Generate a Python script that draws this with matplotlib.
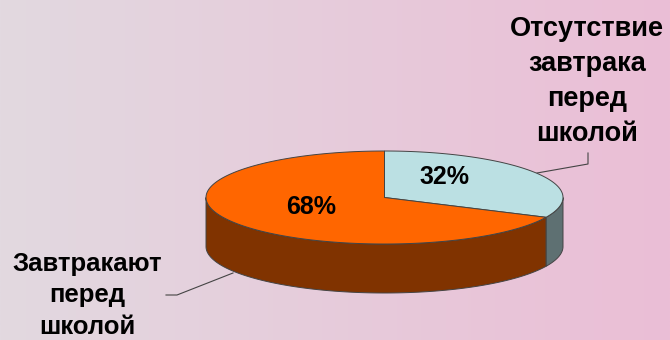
'''

  Pie chart, breakfast before school

'''

# Load required modules

import numpy as np
from matplotlib import pyplot as plt

# Data

shares = [32, 68]
share_labels = ['32%', '68%']
top_colours = ['#bbe0e3', '#ff6600']
side_colours = ['#5e7072', '#803300']

plt.rcParams['font.family'] = ['Liberation Sans', 'DejaVu Sans']

# Pixel axes over the whole figure

fig = plt.figure(figsize=(6.7, 3.4), dpi=100)
ax = fig.add_axes([0, 0, 1, 1])
ax.set_xlim(0, 670)
ax.set_ylim(340, 0)
ax.axis('off')

# Background gradient

left = np.array([226, 217, 224]) / 255.
right = np.array([235, 190, 214]) / 255.
t = np.linspace(0, 1, 256).reshape(1, -1, 1)
ax.imshow(left + (right - left) * t, extent=[0, 670, 340, 0], aspect='auto', zorder=0)

# Pie geometry

xc, yc = 384.5, 197.5
rx, ry = 178.5, 46.5
depth = 49.
edge = '#444444'

def ring(a0, a1, n=200):
    # angles clockwise from the top, in degrees
    a = np.radians(np.linspace(a0, a1, n))
    return xc + rx*np.sin(a), yc - ry*np.cos(a)

edges = np.concatenate(([0], np.cumsum(shares))) * 360. / sum(shares)

# Outer wall, only the front half is visible

for ed in range(len(shares)):
    a0, a1 = max(edges[ed], 90.), min(edges[ed+1], 270.)
    x, y = ring(a0, a1)
    ax.fill(np.r_[x, x[::-1]], np.r_[y, y[::-1] + depth], facecolor=side_colours[ed],
            edgecolor=edge, linewidth=0.7, zorder=2)

# Top face

for ed in range(len(shares)):
    x, y = ring(edges[ed], edges[ed+1])
    ax.fill(np.r_[xc, x], np.r_[yc, y], facecolor=top_colours[ed],
            edgecolor=edge, linewidth=0.7, zorder=3)

# Percent labels

ax.text(444, 177, share_labels[0], fontsize=18, fontweight='bold', ha='center', va='center', zorder=5)
ax.text(311.5, 207, share_labels[1], fontsize=18, fontweight='bold', ha='center', va='center', zorder=5)

# Category labels and leader lines

ax.text(587, 81.5, 'Отсутствие\nзавтрака\nперед\nшколой', fontsize=19.5, fontweight='bold',
        ha='center', va='center', linespacing=1.44, zorder=5)
ax.text(87.5, 339, 'Завтракают\nперед\nшколой', fontsize=18.5, fontweight='bold',
        ha='center', va='bottom', linespacing=1.4, zorder=5)
ax.plot([588, 588, 537], [153, 164, 173], color='#444444', linewidth=0.8, zorder=1)
ax.plot([166, 177, 233], [295, 295, 273], color='#444444', linewidth=0.8, zorder=1)

plt.savefig('out.png', dpi=100)
